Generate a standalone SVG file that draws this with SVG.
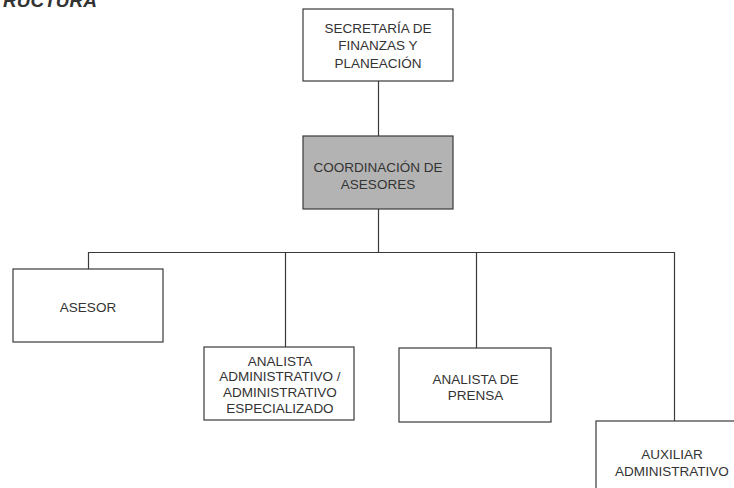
<svg xmlns="http://www.w3.org/2000/svg" width="734" height="488" viewBox="0 0 734 488">
<style>
  .box { fill: #ffffff; stroke: #3a3a3a; stroke-width: 1.2; }
  .grey { fill: #b3b3b3; }
  .lbl { font-family: "Liberation Sans", Arial, sans-serif; font-size: 13.5px; fill: #333333; text-anchor: middle; }
  .conn { stroke: #3a3a3a; stroke-width: 1.2; fill: none; }
  .title { font-family: "Liberation Sans", Arial, sans-serif; font-size: 19px; font-weight: bold; font-style: italic; fill: #333333; text-anchor: end; }
</style>
<rect width="734" height="488" fill="#ffffff"/>
<text class="title" x="97" y="7">ESTRUCTURA</text>
<g id="connectors">
  <path class="conn" d="M378.5 81 V136"/>
  <path class="conn" d="M378.5 209 V252"/>
  <path class="conn" d="M88.5 269 V252.5 H674.5 V421"/>
  <path class="conn" d="M285.5 252 V347"/>
  <path class="conn" d="M476.5 252 V348"/>
</g>
<g id="secretaria">
  <rect class="box" x="303" y="9" width="150" height="72"/>
  <text class="lbl" x="378" y="32.5">SECRETARÍA DE</text>
  <text class="lbl" x="378" y="50">FINANZAS Y</text>
  <text class="lbl" x="378" y="67.5">PLANEACIÓN</text>
</g>
<g id="coordinacion">
  <rect class="box grey" x="303" y="136" width="150" height="73"/>
  <text class="lbl" x="378" y="172">COORDINACIÓN DE</text>
  <text class="lbl" x="378" y="189">ASESORES</text>
</g>
<g id="asesor">
  <rect class="box" x="13" y="269" width="150" height="73"/>
  <text class="lbl" x="88" y="312">ASESOR</text>
</g>
<g id="analista-administrativo">
  <rect class="box" x="204" y="347" width="150" height="73"/>
  <text class="lbl" x="280" y="365.5">ANALISTA</text>
  <text class="lbl" x="280" y="381">ADMINISTRATIVO /</text>
  <text class="lbl" x="280" y="396.5">ADMINISTRATIVO</text>
  <text class="lbl" x="280" y="413">ESPECIALIZADO</text>
</g>
<g id="analista-prensa">
  <rect class="box" x="399" y="348" width="152" height="74"/>
  <text class="lbl" x="475.5" y="384">ANALISTA DE</text>
  <text class="lbl" x="475.5" y="399.5">PRENSA</text>
</g>
<g id="auxiliar">
  <rect class="box" x="596" y="421" width="160" height="80"/>
  <text class="lbl" x="672" y="458.5">AUXILIAR</text>
  <text class="lbl" x="672" y="476">ADMINISTRATIVO</text>
</g>
</svg>
